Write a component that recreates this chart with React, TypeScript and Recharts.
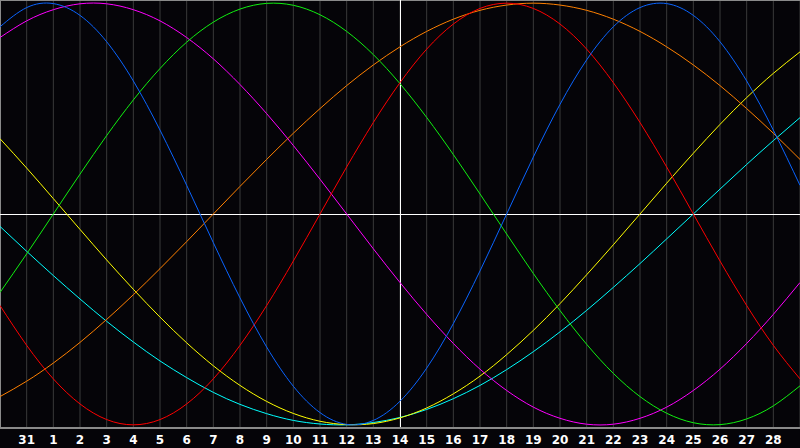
import React from "react";
import { LineChart, Line, XAxis, YAxis, CartesianGrid, ReferenceLine } from "recharts";

const dayLabels = ["30", "31", "1", "2", "3", "4", "5", "6", "7", "8", "9", "10", "11", "12", "13", "14", "15", "16", "17", "18", "19", "20", "21", "22", "23", "24", "25", "26", "27", "28", "29"];

const todayIndex = 15;

const blueSeries = [0.888, 0.979, 0.998, 0.942, 0.817, 0.631, 0.398, 0.136, -0.136, -0.398, -0.631, -0.817, -0.942, -0.998, -0.979, -0.888, -0.731, -0.52, -0.27, 0, 0.27, 0.52, 0.731, 0.888, 0.979, 0.998, 0.942, 0.817, 0.631, 0.398, 0.136];

const redSeries = [-0.434, -0.623, -0.782, -0.901, -0.975, -1, -0.975, -0.901, -0.782, -0.623, -0.434, -0.223, 0, 0.223, 0.434, 0.623, 0.782, 0.901, 0.975, 1, 0.975, 0.901, 0.782, 0.623, 0.434, 0.223, 0, -0.223, -0.434, -0.623, -0.782];

const greenSeries = [-0.372, -0.189, 0, 0.189, 0.372, 0.541, 0.69, 0.815, 0.91, 0.972, 0.999, 0.99, 0.945, 0.866, 0.756, 0.618, 0.458, 0.282, 0.095, -0.095, -0.282, -0.458, -0.618, -0.756, -0.866, -0.945, -0.99, -0.999, -0.972, -0.91, -0.815];

const magentaSeries = [0.837, 0.916, 0.969, 0.997, 0.997, 0.969, 0.916, 0.837, 0.736, 0.614, 0.476, 0.325, 0.165, 0, -0.165, -0.325, -0.476, -0.614, -0.736, -0.837, -0.916, -0.969, -0.997, -0.997, -0.969, -0.916, -0.837, -0.736, -0.614, -0.476, -0.325];

const yellowSeries = [0.357, 0.218, 0.073, -0.073, -0.218, -0.357, -0.489, -0.611, -0.72, -0.813, -0.889, -0.946, -0.983, -0.999, -0.994, -0.967, -0.92, -0.853, -0.769, -0.667, -0.552, -0.425, -0.288, -0.146, 0, 0.146, 0.288, 0.425, 0.552, 0.667, 0.769];

const orangeSeries = [-0.866, -0.793, -0.707, -0.609, -0.5, -0.383, -0.259, -0.131, 0, 0.131, 0.259, 0.383, 0.5, 0.609, 0.707, 0.793, 0.866, 0.924, 0.966, 0.991, 1, 0.991, 0.966, 0.924, 0.866, 0.793, 0.707, 0.609, 0.5, 0.383, 0.259];

const cyanSeries = [-0.059, -0.177, -0.292, -0.403, -0.509, -0.607, -0.697, -0.776, -0.846, -0.903, -0.947, -0.979, -0.996, -1, -0.989, -0.965, -0.927, -0.876, -0.813, -0.738, -0.653, -0.559, -0.457, -0.348, -0.235, -0.118, 0, 0.118, 0.235, 0.348, 0.457];

const data = dayLabels.map((label, i) => ({
  i,
  label,
  blue: blueSeries[i],
  red: redSeries[i],
  green: greenSeries[i],
  magenta: magentaSeries[i],
  yellow: yellowSeries[i],
  orange: orangeSeries[i],
  cyan: cyanSeries[i],
}));

const tickIndices = dayLabels.map((_, i) => i).filter((i) => i > 0 && i < dayLabels.length - 1);

const series = [
  { key: "cyan", color: "#00ffff" },
  { key: "yellow", color: "#ffff00" },
  { key: "orange", color: "#ff8000" },
  { key: "magenta", color: "#ff00ff" },
  { key: "green", color: "#10f010" },
  { key: "red", color: "#ff0000" },
  { key: "blue", color: "#0a64ff" },
];

const Y_MAX = 1.015;

export default function App() {
  return (
    <div style={{ position: "absolute", left: 0, top: 0, width: 800, height: 448, background: "#050408" }}>
      <LineChart width={800} height={448} data={data} margin={{ top: 0, right: 0, bottom: 0, left: 0 }}>
        <CartesianGrid horizontal={false} vertical={true} stroke="#3a3a3a" strokeWidth={1} />
        <XAxis
          dataKey="i"
          type="number"
          domain={[0, dayLabels.length - 1]}
          ticks={tickIndices}
          interval={0}
          tickFormatter={(v: number) => dayLabels[v]}
          height={20}
          axisLine={{ stroke: "#8a8a8a", strokeWidth: 2 }}
          tickLine={false}
          tickSize={5}
          tick={{ fill: "#ffffff", fontSize: 12, fontWeight: "bold", fontFamily: "DejaVu Sans" }}
        />
        <YAxis hide domain={[-Y_MAX, Y_MAX]} allowDataOverflow />
        <ReferenceLine y={Y_MAX} stroke="#8a8a8a" strokeWidth={2} ifOverflow="visible" />
        <ReferenceLine x={0} stroke="#8a8a8a" strokeWidth={2} ifOverflow="visible" />
        <ReferenceLine y={0} stroke="#ffffff" strokeWidth={1} shapeRendering="crispEdges" />
        <ReferenceLine x={todayIndex} stroke="#ffffff" strokeWidth={1} shapeRendering="crispEdges" />
        {series.map((s) => (
          <Line
            key={s.key}
            dataKey={s.key}
            type="natural"
            stroke={s.color}
            strokeWidth={1}
            dot={false}
            activeDot={false}
            isAnimationActive={false}
          />
        ))}
      </LineChart>
    </div>
  );
}
